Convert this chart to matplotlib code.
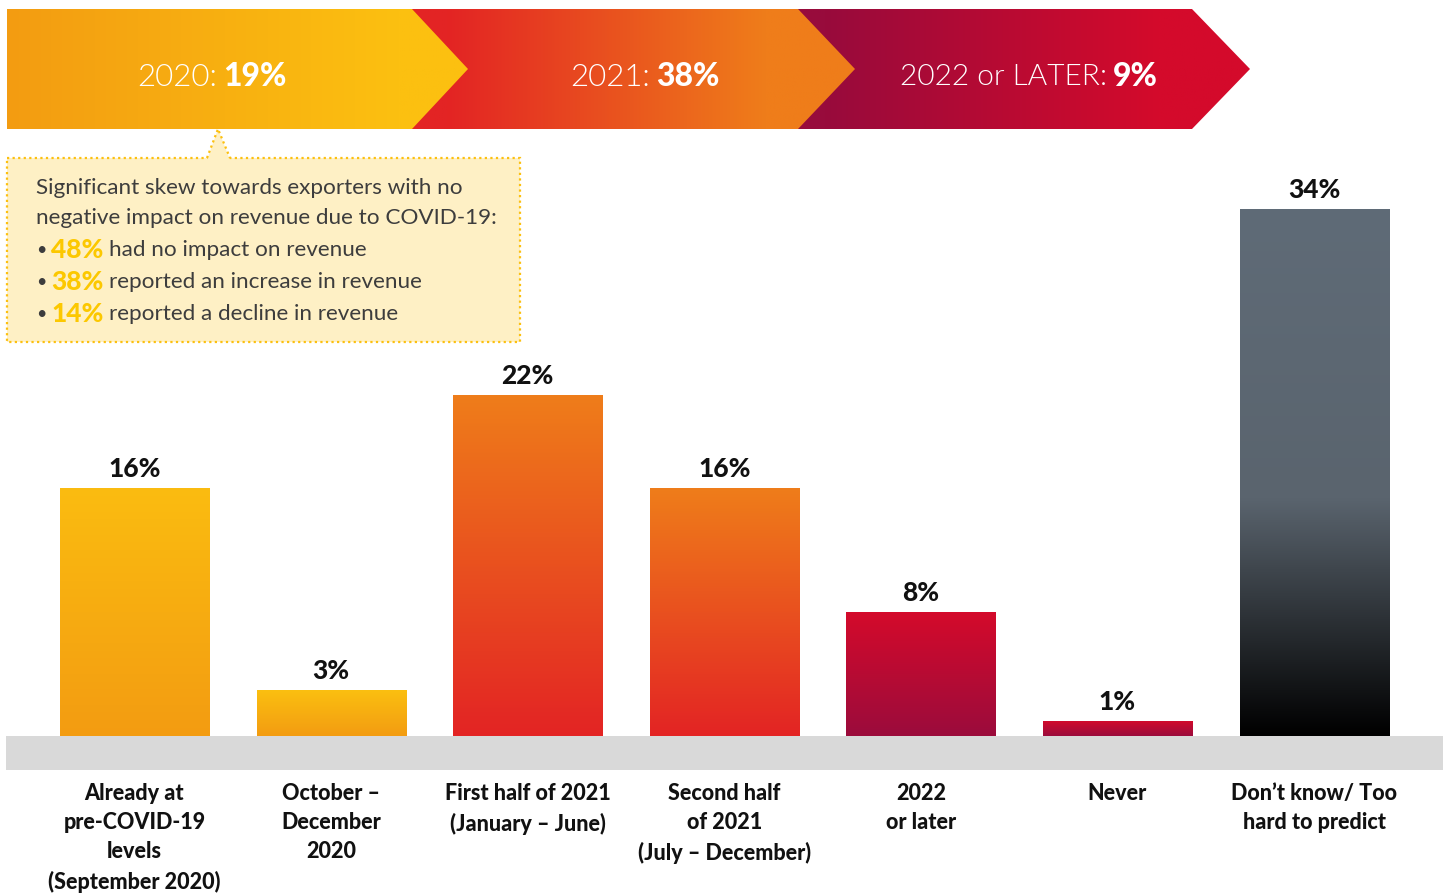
import numpy as np
import matplotlib
matplotlib.use('Agg')
import matplotlib.pyplot as plt
from matplotlib.colors import LinearSegmentedColormap
from matplotlib.patches import Rectangle, Polygon
import matplotlib.transforms as mtransforms

plt.rcParams['font.family'] = ['Lato', 'DejaVu Sans']

# Survey data: when exporters expect revenue to recover
categories = ['Already at\npre-COVID-19\nlevels\n(September 2020)',
              'October –\nDecember\n2020',
              'First half of 2021\n(January – June)',
              'Second half\nof 2021\n(July – December)',
              '2022\nor later',
              'Never',
              'Don’t know/ Too\nhard to predict']
values = [16, 3, 22, 16, 8, 1, 34]

# Bar gradients (bottom colour, top colour)
bar_grads = [
    [(0, '#F39C12'), (1, '#FBBC10')],
    [(0, '#F39C12'), (1, '#FBC010')],
    [(0, '#E32424'), (1, '#EF7D1A')],
    [(0, '#E32424'), (1, '#EF7D1A')],
    [(0, '#9B0C3C'), (1, '#D40A2B')],
    [(0, '#9B0C3C'), (1, '#D40A2B')],
    [(0, '#000000'), (0.45, '#5A646E'), (1, '#5F6B77')],
]

# Summary arrows
period_labels = ['2020:', '2021:', '2022 or LATER:']
period_values = ['19%', '38%', '9%']

# Callout lines
callout_intro = ['Significant skew towards exporters with no',
                 'negative impact on revenue due to COVID-19:']
callout_pcts = ['48%', '38%', '14%']
callout_text = ['had no impact on revenue',
                'reported an increase in revenue',
                'reported a decline in revenue']

W, H = 1451, 893
fig = plt.figure(figsize=(W / 100, H / 100), dpi=100)

# ---- bar chart axes ----
px_per_pct = 15.5
slot = 196.6
left_px = 134.5 - slot / 2
base_px = 736
ymax = 36
ax = fig.add_axes([left_px / W, (H - base_px) / H, 7 * slot / W, ymax * px_per_pct / H])
ax.set_axis_off()

x = np.arange(len(values))
bars = ax.bar(x, values, width=0.758, color='none', edgecolor='none')
for b, stops in zip(bars, bar_grads):
    cmap = LinearSegmentedColormap.from_list('g', stops)
    grad = np.linspace(0, 1, 256).reshape(-1, 1)
    im = ax.imshow(grad, cmap=cmap, origin='lower', aspect='auto',
                   extent=(b.get_x(), b.get_x() + b.get_width(), 0, b.get_height()))
    im.set_clip_path(b)
    ax.annotate(f'{b.get_height():.0f}%', (b.get_x() + b.get_width() / 2, b.get_height()),
                xytext=(0, 5), textcoords='offset points', ha='center', va='bottom',
                fontsize=19, fontweight='black', color='#111111')

ax.set_xlim(-0.5, 6.5)
ax.set_ylim(0, ymax)

# category labels under the grey band
lab_tr = mtransforms.blended_transform_factory(ax.transData, fig.transFigure)
for i, c in enumerate(categories):
    ax.text(i, 1 - 783 / H, c, transform=lab_tr, ha='center', va='top',
            fontsize=15.5, fontweight='black', linespacing=1.47, color='#111111')

# ---- overlay in pixel units ----
ov = fig.add_axes([0, 0, 1, 1])
ov.set_xlim(0, W)
ov.set_ylim(H, 0)
ov.set_axis_off()

# grey baseline band
ov.add_patch(Rectangle((6, 736), 1437, 34, facecolor='#D9D9D9', edgecolor='none'))

# arrows, drawn right to left so each tip sits on the next arrow
arrows = [
    (7, 412, 468, [(0, '#F39C12'), (0.85, '#FCC010'), (1, '#FCC010')]),
    (412, 798, 855, [(0, '#E32424'), (0.08, '#E32424'), (0.8, '#EF7D1A'), (1, '#EF7D1A')]),
    (798, 1192, 1250, [(0, '#980B3C'), (0.06, '#980B3C'), (0.8, '#D40A2B'), (1, '#D40A2B')]),
]
top, bot = 9, 129
mid = (top + bot) / 2
for x0, x1, tip, stops in arrows[::-1]:
    poly = Polygon([(x0, top), (x1, top), (tip, mid), (x1, bot), (x0, bot)],
                   closed=True, facecolor='none', edgecolor='none')
    ov.add_patch(poly)
    cmap = LinearSegmentedColormap.from_list('a', stops)
    grad = np.linspace(0, 1, 256).reshape(1, -1)
    im = ov.imshow(grad, cmap=cmap, aspect='auto', extent=(x0, tip, bot, top))
    im.set_clip_path(poly)

ov.set_xlim(0, W)
ov.set_ylim(H, 0)

renderer = fig.canvas.get_renderer()


def run_text(x, y, parts, gap=6, center=False):
    """Draw text pieces with different styles side by side."""
    texts = [ov.text(0, y, s, va='center', ha='left', **kw) for s, kw in parts]
    widths = [t.get_window_extent(renderer).width for t in texts]
    total = sum(widths) + gap * (len(texts) - 1)
    cur = x - total / 2 if center else x
    for t, w in zip(texts, widths):
        t.set_x(cur)
        cur += w + gap


centres = [212, 645, 1029]
for cx, lab, val in zip(centres, period_labels, period_values):
    size = 21.5 if len(lab) > 6 else 22.5
    run_text(cx, 77, [(lab, dict(fontsize=size, fontweight=300, color='white')),
                      (val, dict(fontsize=23, fontweight='black', color='white'))],
             gap=6, center=True)

# callout box with pointer
ov.add_patch(Rectangle((7, 158), 513, 184, facecolor='#FEF0C5', edgecolor='#FCC010',
                       linestyle=(0, (1, 1.5)), linewidth=1.6))
ov.add_patch(Polygon([(207, 160), (218, 129), (230, 160)], closed=True,
                     facecolor='#FEF0C5', edgecolor='none'))
ov.plot([207, 218, 230], [158, 129, 158], color='#FCC010',
        linestyle=(0, (1, 1.5)), linewidth=1.6)

grey = '#3D3D3D'
for yy, s in zip([188, 218], callout_intro):
    ov.text(36, yy, s, va='center', ha='left', fontsize=16.2, color=grey)
for yy, p, s in zip([250, 282, 314], callout_pcts, callout_text):
    run_text(36, yy, [('•', dict(fontsize=13, color=grey)),
                      (p, dict(fontsize=19, fontweight='black', color='#FCC800')),
                      (s, dict(fontsize=16.2, color=grey))], gap=5)

fig.savefig('out.png', dpi=100)
